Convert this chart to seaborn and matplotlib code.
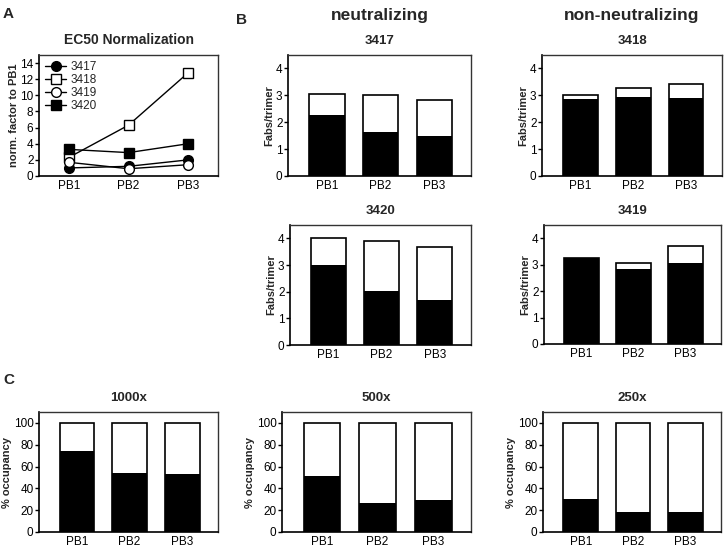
import matplotlib
matplotlib.use("Agg")
import matplotlib.pyplot as plt
import seaborn as sns
import pandas as pd

sns.set_theme(style="ticks")
plt.rcParams['font.family'] = ['Liberation Sans', 'DejaVu Sans']

categories = ["PB1", "PB2", "PB3"]

# Panel A: EC50 normalization
ec50_3417 = [1.0, 1.2, 2.0]
ec50_3418 = [2.3, 6.3, 12.8]
ec50_3419 = [1.7, 0.9, 1.4]
ec50_3420 = [3.3, 2.9, 4.0]

# Panel B: Fabs/trimer (total height, black/bound part)
total_3417 = [3.05, 3.0, 2.82]
black_3417 = [2.28, 1.62, 1.50]
total_3418 = [3.0, 3.27, 3.41]
black_3418 = [2.86, 2.95, 2.91]
total_3420 = [4.01, 3.91, 3.66]
black_3420 = [3.0, 2.02, 1.67]
total_3419 = [3.26, 3.05, 3.72]
black_3419 = [3.24, 2.82, 3.07]

# Panel C: % occupancy
total_occ = [100, 100, 100]
occ_1000x = [74.5, 54, 53]
occ_500x = [51, 27, 29]
occ_250x = [30, 18.7, 18.7]

W, H = 724, 548
fig = plt.figure(figsize=(W / 100, H / 100), dpi=100)


def add_ax(x0, x1, y0, y1):
    return fig.add_axes([x0 / W, 1 - y1 / H, (x1 - x0) / W, (y1 - y0) / H])


def style(ax):
    for s in ["left", "bottom"]:
        ax.spines[s].set_linewidth(1.2)
        ax.spines[s].set_color("black")
    for s in ["top", "right"]:
        ax.spines[s].set_linewidth(1.0)
        ax.spines[s].set_color("#333333")
        ax.spines[s].set_visible(True)
    ax.tick_params(axis="y", direction="out", length=3, width=1, labelsize=8.5, pad=1, colors="black")
    ax.tick_params(axis="x", length=0, labelsize=8.5, pad=3, colors="black")
    ax.set_xlabel("")


def bar_panel(ax, total, black, title, ylabel, ylim, yticks):
    sns.barplot(x=categories, y=total, ax=ax, color="white", edgecolor="black",
                linewidth=1.2, width=0.66, saturation=1)
    sns.barplot(x=categories, y=black, ax=ax, color="black", edgecolor="black",
                linewidth=0, width=0.66, saturation=1)
    ax.set_xlim(-0.72, 2.68)
    ax.set_ylim(*ylim)
    ax.set_yticks(yticks)
    ax.set_title(title, fontsize=9.5, fontweight="bold", pad=8)
    ax.set_ylabel(ylabel, fontsize=8 if "Fabs" in ylabel else 8, fontweight="bold", labelpad=1)
    style(ax)


# Panel A
axA = add_ax(39, 218, 55, 176)
series = [
    ("3417", ec50_3417, "o", "black"),
    ("3418", ec50_3418, "s", "white"),
    ("3419", ec50_3419, "o", "white"),
    ("3420", ec50_3420, "s", "black"),
]
for name, vals, mk, fc in series:
    df = pd.DataFrame({"x": [0, 1, 2], "y": vals})
    sns.lineplot(data=df, x="x", y="y", ax=axA, color="black", linewidth=1,
                 marker=mk, markersize=7, markerfacecolor=fc, markeredgecolor="black",
                 markeredgewidth=1, label=name)
axA.set_xlim(-0.5, 2.5)
axA.set_ylim(0, 15)
axA.set_yticks(range(0, 15, 2))
axA.set_xticks([0, 1, 2])
axA.set_xticklabels(categories)
axA.set_title("EC50 Normalization", fontsize=10, fontweight="bold", pad=8)
axA.set_ylabel("norm. factor to PB1", fontsize=8, fontweight="bold", labelpad=1)
style(axA)
leg = axA.legend(loc="upper left", frameon=False, fontsize=8.5, handlelength=1.8,
                 borderaxespad=0.1, labelspacing=0.1, handletextpad=0.4)

# Panel B
axB1 = add_ax(288, 471, 55, 176)
bar_panel(axB1, total_3417, black_3417, "3417", "Fabs/trimer", (0, 4.5), range(0, 5))
axB2 = add_ax(542, 722, 55, 176)
bar_panel(axB2, total_3418, black_3418, "3418", "Fabs/trimer", (0, 4.5), range(0, 5))
axB3 = add_ax(290, 471, 225, 345)
bar_panel(axB3, total_3420, black_3420, "3420", "Fabs/trimer", (0, 4.5), range(0, 5))
axB4 = add_ax(544, 721, 225, 344)
bar_panel(axB4, total_3419, black_3419, "3419", "Fabs/trimer", (0, 4.5), range(0, 5))

# Panel C
axC1 = add_ax(39, 218, 412, 532)
bar_panel(axC1, total_occ, occ_1000x, "1000x", "% occupancy", (0, 110), range(0, 101, 20))
axC2 = add_ax(282, 471, 412, 532)
bar_panel(axC2, total_occ, occ_500x, "500x", "% occupancy", (0, 110), range(0, 101, 20))
axC3 = add_ax(543, 721, 412, 532)
bar_panel(axC3, total_occ, occ_250x, "250x", "% occupancy", (0, 110), range(0, 101, 20))

# Panel letters and headers
fig.text(3 / W, 1 - 18 / H, "A", fontsize=11, fontweight="bold")
fig.text(236 / W, 1 - 24 / H, "B", fontsize=11, fontweight="bold")
fig.text(3 / W, 1 - 384 / H, "C", fontsize=11, fontweight="bold")
fig.text(380 / W, 1 - 20 / H, "neutralizing", fontsize=12.5, fontweight="bold", ha="center")
fig.text(632 / W, 1 - 20 / H, "non-neutralizing", fontsize=12.5, fontweight="bold", ha="center")

fig.savefig("out.png", dpi=100)
